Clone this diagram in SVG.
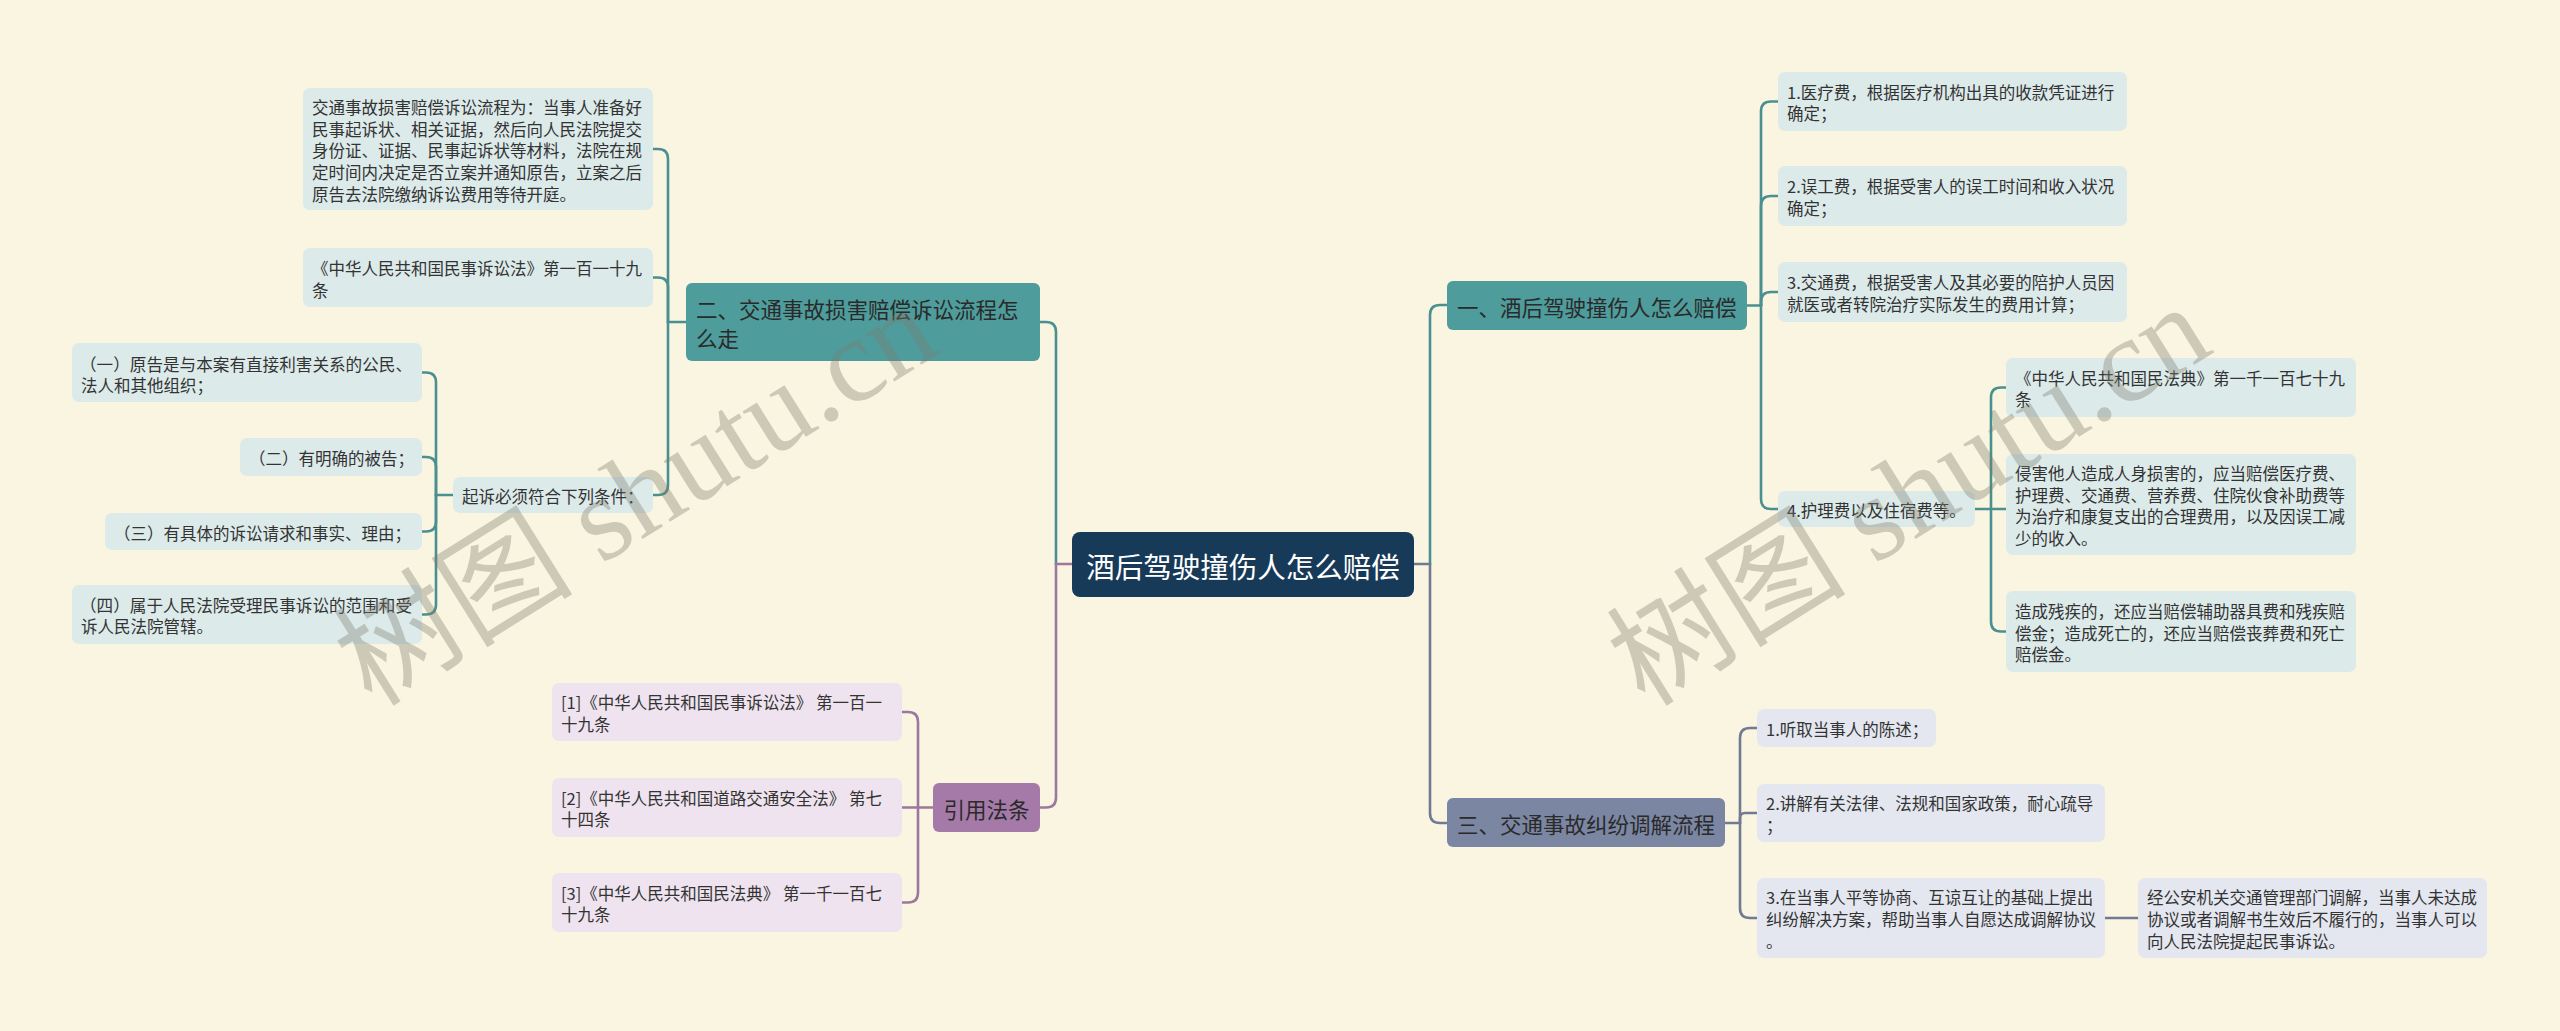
<svg xmlns="http://www.w3.org/2000/svg" width="2560" height="1031" viewBox="0 0 2560 1031">
<style>
.bg{fill:#FAF5E1}
.lt{fill:#DCEAEA}
.lp{fill:#EEE3EE}
.ls{fill:#E4E7EF}
.t{font-family:"Noto Sans CJK SC","Noto Sans",sans-serif;font-size:16.5px;fill:#333333;dominant-baseline:central}
.bt{font-family:"Noto Sans CJK SC","Noto Sans",sans-serif;font-size:21.5px;fill:#2A2A2A;dominant-baseline:central}
.rt{font-family:"Noto Sans CJK SC","Noto Sans",sans-serif;font-size:28.5px;fill:#FFFFFF;dominant-baseline:central;text-anchor:middle}
.c{fill:none;stroke-width:2.6;stroke-linecap:round}
.ct{stroke:#4A9090}
.cp{stroke:#9C77A0}
.cs{stroke:#717A93}
.wm{font-family:"Liberation Serif","Noto Sans CJK SC",serif;font-size:120px;fill:#7E7C6E;opacity:0.36}
</style>
<rect class="bg" x="0" y="0" width="2560" height="1031"/>

<g id="connectors">
  <path class="c ct" d="M686 322H668"/>
  <path class="c ct" d="M668 322V159Q668 149 658 149H653"/>
  <path class="c ct" d="M668 322V287.5Q668 277.5 658 277.5H653"/>
  <path class="c ct" d="M668 322V485Q668 495 658 495H653"/>
  <path class="c ct" d="M453 495H436"/>
  <path class="c ct" d="M436 495V382.5Q436 372.5 426 372.5H422"/>
  <path class="c ct" d="M436 495V467Q436 457 426 457H422"/>
  <path class="c ct" d="M436 495V521.5Q436 531.5 426 531.5H422"/>
  <path class="c ct" d="M436 495V604.5Q436 614.5 426 614.5H422"/>
  <path class="c ct" d="M1056 564V332Q1056 322 1046 322H1040"/>
  <path class="c cp" d="M1056 564V797.5Q1056 807.5 1046 807.5H1040"/>
  <path class="c cp" d="M1072 564H1056"/>
  <path class="c cp" d="M933 807.5H918"/>
  <path class="c cp" d="M918 807.5V722Q918 712 908 712H902"/>
  <path class="c cp" d="M918 807.5H902"/>
  <path class="c cp" d="M918 807.5V892.5Q918 902.5 908 902.5H902"/>
  <path class="c ct" d="M1430 564V315Q1430 305 1440 305H1447"/>
  <path class="c cs" d="M1430 564V813Q1430 823 1440 823H1447"/>
  <path class="c cs" d="M1414 564H1430"/>
  <path class="c ct" d="M1747 305.5H1761"/>
  <path class="c ct" d="M1761 305.5V111.5Q1761 101.5 1771 101.5H1778"/>
  <path class="c ct" d="M1761 305.5V206Q1761 196 1771 196H1778"/>
  <path class="c ct" d="M1761 305.5V302Q1761 292 1771 292H1778"/>
  <path class="c ct" d="M1761 305.5V499Q1761 509 1771 509H1778"/>
  <path class="c ct" d="M1975 509H1991"/>
  <path class="c ct" d="M1991 509V397.5Q1991 387.5 2001 387.5H2006"/>
  <path class="c ct" d="M1991 509H2006"/>
  <path class="c ct" d="M1991 509V621.5Q1991 631.5 2001 631.5H2006"/>
  <path class="c cs" d="M1725 823H1740"/>
  <path class="c cs" d="M1740 823V738Q1740 728 1750 728H1757"/>
  <path class="c cs" d="M1740 823V818Q1740 813 1745 813H1757"/>
  <path class="c cs" d="M1740 823V908Q1740 918 1750 918H1757"/>
  <path class="c cs" d="M2105 918H2138"/>
</g>

<g id="root">
  <rect x="1072" y="532" width="342" height="65" rx="8" fill="#173A58"/>
  <text class="rt" x="1243" y="565">酒后驾驶撞伤人怎么赔偿</text>
</g>

<g id="branch2">
  <rect x="686" y="283" width="354" height="78" rx="6" fill="#4E9C9C"/>
  <text class="bt"><tspan x="696" y="308">二、交通事故损害赔偿诉讼流程怎</tspan><tspan x="696" y="337">么走</tspan></text>
</g>
<g id="b2-process">
  <rect class="lt" x="303" y="88" width="350" height="122" rx="7"/>
  <text class="t"><tspan x="312" y="107">交通事故损害赔偿诉讼流程为：当事人准备好</tspan><tspan x="312" y="128.7">民事起诉状、相关证据，然后向人民法院提交</tspan><tspan x="312" y="150.4">身份证、证据、民事起诉状等材料，法院在规</tspan><tspan x="312" y="172.1">定时间内决定是否立案并通知原告，立案之后</tspan><tspan x="312" y="193.8">原告去法院缴纳诉讼费用等待开庭。</tspan></text>
</g>
<g id="b2-law">
  <rect class="lt" x="303" y="248" width="350" height="59" rx="7"/>
  <text class="t"><tspan x="312" y="268">《中华人民共和国民事诉讼法》第一百一十九</tspan><tspan x="312" y="289.7">条</tspan></text>
</g>
<g id="b2-conditions">
  <rect class="lt" x="453" y="477" width="200" height="36" rx="7"/>
  <text class="t" x="462" y="496">起诉必须符合下列条件：</text>
</g>
<g id="cond1">
  <rect class="lt" x="72" y="343" width="350" height="59" rx="7"/>
  <text class="t"><tspan x="80" y="363.5" textLength="332" lengthAdjust="spacingAndGlyphs">（一）原告是与本案有直接利害关系的公民、</tspan><tspan x="81" y="385.2">法人和其他组织；</tspan></text>
</g>
<g id="cond2">
  <rect class="lt" x="240" y="438" width="182" height="38" rx="7"/>
  <text class="t" x="249" y="458">（二）有明确的被告；</text>
</g>
<g id="cond3">
  <rect class="lt" x="105" y="513" width="317" height="37" rx="7"/>
  <text class="t" x="114" y="532.5">（三）有具体的诉讼请求和事实、理由；</text>
</g>
<g id="cond4">
  <rect class="lt" x="72" y="585" width="350" height="59" rx="7"/>
  <text class="t"><tspan x="80" y="604.5" textLength="332" lengthAdjust="spacingAndGlyphs">（四）属于人民法院受理民事诉讼的范围和受</tspan><tspan x="81" y="626.2">诉人民法院管辖。</tspan></text>
</g>

<g id="citations">
  <rect x="933" y="783" width="107" height="49" rx="6" fill="#A57AA8"/>
  <text class="bt" x="986.5" y="808" text-anchor="middle" fill="#3A2A3C">引用法条</text>
</g>
<g id="cite1">
  <rect class="lp" x="552" y="683" width="350" height="58" rx="7"/>
  <text class="t"><tspan x="561" y="702">[1]《中华人民共和国民事诉讼法》 第一百一</tspan><tspan x="561" y="723.7">十九条</tspan></text>
</g>
<g id="cite2">
  <rect class="lp" x="552" y="778" width="350" height="59" rx="7"/>
  <text class="t"><tspan x="561" y="797.5">[2]《中华人民共和国道路交通安全法》 第七</tspan><tspan x="561" y="819.2">十四条</tspan></text>
</g>
<g id="cite3">
  <rect class="lp" x="552" y="873" width="350" height="59" rx="7"/>
  <text class="t"><tspan x="561" y="892.5">[3]《中华人民共和国民法典》 第一千一百七</tspan><tspan x="561" y="914.2">十九条</tspan></text>
</g>

<g id="branch1">
  <rect x="1447" y="281" width="300" height="49" rx="6" fill="#4E9C9C"/>
  <text class="bt" x="1457" y="306">一、酒后驾驶撞伤人怎么赔偿</text>
</g>
<g id="b1-item1">
  <rect class="lt" x="1778" y="72" width="349" height="59" rx="7"/>
  <text class="t"><tspan x="1787" y="91.7">1.医疗费，根据医疗机构出具的收款凭证进行</tspan><tspan x="1787" y="113.4">确定；</tspan></text>
</g>
<g id="b1-item2">
  <rect class="lt" x="1778" y="166" width="349" height="60" rx="7"/>
  <text class="t"><tspan x="1787" y="186.2">2.误工费，根据受害人的误工时间和收入状况</tspan><tspan x="1787" y="207.9">确定；</tspan></text>
</g>
<g id="b1-item3">
  <rect class="lt" x="1778" y="262" width="349" height="60" rx="7"/>
  <text class="t"><tspan x="1787" y="282.2">3.交通费，根据受害人及其必要的陪护人员因</tspan><tspan x="1787" y="303.9">就医或者转院治疗实际发生的费用计算；</tspan></text>
</g>
<g id="b1-item4">
  <rect class="lt" x="1778" y="491" width="197" height="36" rx="7"/>
  <text class="t" x="1787" y="510">4.护理费以及住宿费等。</text>
</g>
<g id="b1-item4-law">
  <rect class="lt" x="2006" y="358" width="350" height="59" rx="7"/>
  <text class="t"><tspan x="2015" y="377.7">《中华人民共和国民法典》第一千一百七十九</tspan><tspan x="2015" y="399.4">条</tspan></text>
</g>
<g id="b1-item4-a">
  <rect class="lt" x="2006" y="454" width="350" height="101" rx="7"/>
  <text class="t"><tspan x="2015" y="473">侵害他人造成人身损害的，应当赔偿医疗费、</tspan><tspan x="2015" y="494.7">护理费、交通费、营养费、住院伙食补助费等</tspan><tspan x="2015" y="516.4">为治疗和康复支出的合理费用，以及因误工减</tspan><tspan x="2015" y="538.1">少的收入。</tspan></text>
</g>
<g id="b1-item4-b">
  <rect class="lt" x="2006" y="591" width="350" height="81" rx="7"/>
  <text class="t"><tspan x="2015" y="610.8">造成残疾的，还应当赔偿辅助器具费和残疾赔</tspan><tspan x="2015" y="632.5">偿金；造成死亡的，还应当赔偿丧葬费和死亡</tspan><tspan x="2015" y="654.2">赔偿金。</tspan></text>
</g>

<g id="branch3">
  <rect x="1447" y="798" width="278" height="49" rx="6" fill="#7B86A3"/>
  <text class="bt" x="1457" y="823" fill="#2A2E3A">三、交通事故纠纷调解流程</text>
</g>
<g id="b3-item1">
  <rect class="ls" x="1757" y="709" width="179" height="38" rx="7"/>
  <text class="t" x="1766" y="729">1.听取当事人的陈述；</text>
</g>
<g id="b3-item2">
  <rect class="ls" x="1757" y="784" width="348" height="58" rx="7"/>
  <text class="t"><tspan x="1766" y="803.2">2.讲解有关法律、法规和国家政策，耐心疏导</tspan><tspan x="1766" y="824.9">；</tspan></text>
</g>
<g id="b3-item3">
  <rect class="ls" x="1757" y="878" width="348" height="80" rx="7"/>
  <text class="t"><tspan x="1766" y="897.3">3.在当事人平等协商、互谅互让的基础上提出</tspan><tspan x="1766" y="919">纠纷解决方案，帮助当事人自愿达成调解协议</tspan><tspan x="1766" y="940.7">。</tspan></text>
</g>
<g id="b3-item3-a">
  <rect class="ls" x="2138" y="878" width="349" height="80" rx="7"/>
  <text class="t"><tspan x="2147" y="897.3">经公安机关交通管理部门调解，当事人未达成</tspan><tspan x="2147" y="919">协议或者调解书生效后不履行的，当事人可以</tspan><tspan x="2147" y="940.7">向人民法院提起民事诉讼。</tspan></text>
</g>

<g id="watermarks">
  <text class="wm" x="372" y="708" transform="rotate(-32 372 708)">树图 shutu.cn</text>
  <text class="wm" x="1645" y="708" transform="rotate(-32 1645 708)">树图 shutu.cn</text>
</g>
</svg>
